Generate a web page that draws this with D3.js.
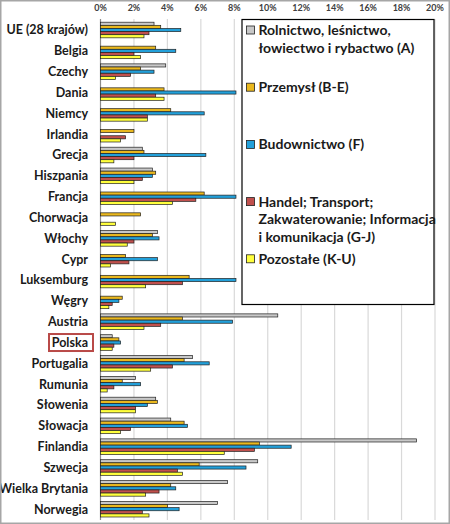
<!DOCTYPE html>
<html>
<head>
<meta charset="utf-8">
<script src="https://cdn.jsdelivr.net/npm/d3@7"></script>
<style>
	body { margin: 0; background: #fff; }
	svg { display: block; font-family: Lato, "Open Sans", sans-serif; }
</style>
</head>
<body>
<div id="chart"></div>
<script>
// countries, top to bottom
var countries = ["UE (28 krajów)", "Belgia", "Czechy", "Dania", "Niemcy", "Irlandia", "Grecja",
	"Hiszpania", "Francja", "Chorwacja", "Włochy", "Cypr", "Luksemburg", "Węgry", "Austria",
	"Polska", "Portugalia", "Rumunia", "Słowenia", "Słowacja", "Finlandia", "Szwecja",
	"Wielka Brytania", "Norwegia"];

// values in %, null = no data
var rolnictwo = [3.2, null, 3.9, null, null, null, 2.5, 3.1, null, null, 3.4, null, null, null,
	10.6, 0.7, 5.5, 2.1, 3.3, 4.2, 18.9, 9.4, 7.6, 7.0];
var przemysl = [3.6, 3.3, 2.4, 3.8, 4.2, 2.0, 2.6, 3.3, 6.2, 2.4, 3.1, 1.5, 5.3, 1.3,
	4.9, 1.1, 5.0, 1.3, 3.4, 5.0, 9.5, 5.9, 4.2, 4.0];
var budownictwo = [4.8, 4.5, 3.2, 8.1, 6.2, null, 6.3, 3.1, 8.1, null, 3.5, 3.4, 8.1, 1.1,
	7.9, 1.2, 6.5, 2.4, 2.8, 5.2, 11.4, 8.7, 4.5, 4.7];
var handel = [2.9, 2.0, 1.8, 3.3, 2.8, 1.5, 2.0, 2.5, 5.7, null, 2.0, 1.7, 4.9, 0.7,
	3.6, 0.8, 4.3, 0.8, 2.1, 1.8, 9.2, 4.6, 3.5, 2.5];
var pozostale = [2.6, 2.4, 0.9, 3.8, 2.8, 1.2, 0.8, 2.0, 4.3, 0.9, 1.6, 0.6, 2.7, 0.5,
	2.6, 0.7, 3.0, 0.4, 2.1, 1.2, 7.4, 4.9, 2.7, 2.9];

var seriesNames = [
	["Rolnictwo, leśnictwo,", "łowiectwo i rybactwo (A)"],
	["Przemysł (B-E)"],
	["Budownictwo (F)"],
	["Handel; Transport;", "Zakwaterowanie; Informacja", "i komunikacja (G-J)"],
	["Pozostałe (K-U)"]
];
var seriesValues = [rolnictwo, przemysl, budownictwo, handel, pozostale];
var seriesColors = ["#c8c8c8", "#eab81e", "#22a0da", "#c0504d", "#ffff3c"];

var xTicks = [0, 2, 4, 6, 8, 10, 12, 14, 16, 18, 20];
var highlighted = "Polska";

var width = 450, height = 524;

var svg = d3.select("#chart").append("svg")
	.attr("width", width)
	.attr("height", height);

var x = d3.scaleLinear().domain([0, 20]).range([100.5, 435]);
var y = d3.scaleBand()
	.domain(countries)
	.range([19.6, 519.6])
	.paddingInner(0.25)
	.paddingOuter(0.125);
var ySub = d3.scaleBand()
	.domain(d3.range(seriesValues.length))
	.range([0, y.bandwidth()]);

// grid lines
svg.append("g").selectAll("line")
		.data(xTicks)
	.enter().append("line")
		.attr("x1", function(d) { return x(d); })
		.attr("x2", function(d) { return x(d); })
		.attr("y1", 19)
		.attr("y2", 520)
		.style("stroke", function(d) { return d === 0 ? "#8c8c8c" : "#d9d9d9"; })
		.style("stroke-width", 1.2);

// tick labels on top
svg.append("g").selectAll("text")
		.data(xTicks)
	.enter().append("text")
		.attr("x", function(d) { return x(d); })
		.attr("y", 11)
		.attr("text-anchor", "middle")
		.style("font-size", "9px")
		.style("font-weight", "bold")
		.style("fill", "#404040")
		.text(function(d) { return d + "%"; });

// bars
var rows = countries.map(function(c, i) {
	return { name: c, values: seriesValues.map(function(s, j) { return { k: j, v: s[i] }; }) };
});

var group = svg.append("g").selectAll(".country")
		.data(rows)
	.enter().append("g")
		.attr("class", "country")
		.attr("transform", function(d) { return "translate(0," + y(d.name) + ")"; });

group.selectAll("rect")
		.data(function(d) { return d.values.filter(function(e) { return e.v != null; }); })
	.enter().append("rect")
		.attr("x", x(0))
		.attr("y", function(d) { return ySub(d.k); })
		.attr("width", function(d) { return x(d.v) - x(0); })
		.attr("height", ySub.bandwidth())
		.style("fill", function(d) { return seriesColors[d.k]; })
		.style("stroke", "#202020")
		.style("stroke-width", 0.7);

// country labels
group.append("text")
		.attr("x", 88)
		.attr("y", y.bandwidth() / 2)
		.attr("dy", ".35em")
		.attr("text-anchor", "end")
		.style("font-size", "12.5px")
		.style("font-weight", "bold")
		.style("fill", "#1a1a1a")
		.text(function(d) { return d.name; });

// box around Polska
svg.append("rect")
	.attr("x", 49)
	.attr("y", y(highlighted) + y.bandwidth() / 2 - 8.5)
	.attr("width", 44)
	.attr("height", 17)
	.style("fill", "none")
	.style("stroke", "#b94a48")
	.style("stroke-width", 2);

// legend
var legend = svg.append("g").attr("transform", "translate(242,19.5)");
legend.append("rect")
	.attr("width", 192)
	.attr("height", 285)
	.style("fill", "#fff")
	.style("stroke", "#000")
	.style("stroke-width", 1.2);

var item = legend.selectAll(".item")
		.data(seriesNames)
	.enter().append("g")
		.attr("class", "item")
		.attr("transform", function(d, i) { return "translate(0," + (10.5 + i * 57.2) + ")"; });

item.append("rect")
	.attr("x", 4.5)
	.attr("y", -4)
	.attr("width", 8)
	.attr("height", 8)
	.style("fill", function(d, i) { return seriesColors[i]; })
	.style("stroke", "#202020")
	.style("stroke-width", 0.8);

item.selectAll("text")
		.data(function(d) { return d; })
	.enter().append("text")
		.attr("x", 16.5)
		.attr("y", function(d, i) { return i * 18; })
		.attr("dy", ".35em")
		.style("font-size", "14px")
		.style("font-weight", "bold")
		.style("fill", "#1a1a1a")
		.text(function(d) { return d; });

// outer frame
svg.append("rect")
	.attr("x", 0.75)
	.attr("y", 0.75)
	.attr("width", width - 1.5)
	.attr("height", height - 1.5)
	.style("fill", "none")
	.style("stroke", "#a6a6a6")
	.style("stroke-width", 1.5);
</script>
</body>
</html>
